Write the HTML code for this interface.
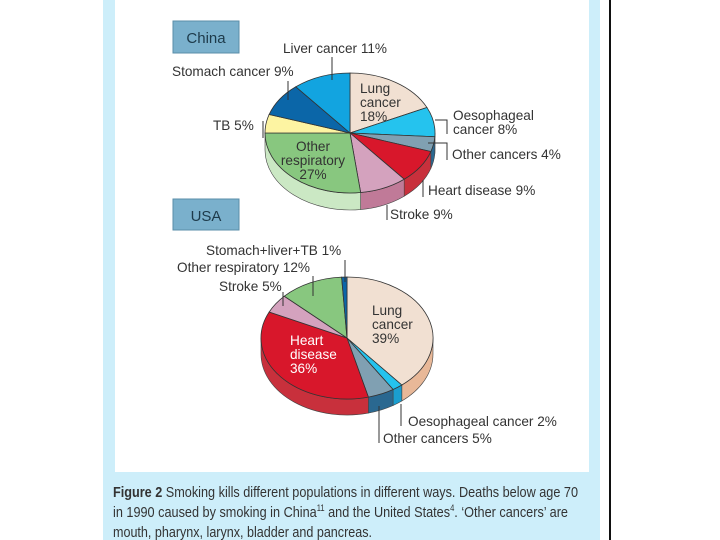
<!DOCTYPE html>
<html><head><meta charset="utf-8"><style>
html,body{margin:0;padding:0;background:#fff;width:720px;height:540px;overflow:hidden}
svg{display:block;font-family:"Liberation Sans",sans-serif}
</style></head><body>
<svg id="c" width="720" height="540" viewBox="0 0 720 540">
<rect x="103" y="0" width="497" height="540" fill="#cdeefa"/>
<rect x="115" y="0" width="474" height="472" fill="#fff"/>
<rect x="609" y="0" width="2" height="540" fill="#111"/>
<g>
<rect x="173" y="21" width="66" height="32" fill="#7ab0cc" stroke="#5a8ea8"/>
<text x="206" y="43" font-size="15" text-anchor="middle" fill="#1d3a4a">China</text></g>
<g>
<rect x="173" y="199" width="66" height="31" fill="#7ab0cc" stroke="#5a8ea8"/>
<text x="206" y="221" font-size="15" text-anchor="middle" fill="#1d3a4a">USA</text></g>
<g id="china"></g>
<g id="usa"></g>
<g font-size="13.6" fill="#333" stroke="none">
<text x="283" y="53">Liver cancer 11%</text>
<text x="172" y="76">Stomach cancer 9%</text>
<text x="213" y="130">TB 5%</text>
<text x="453" y="120">Oesophageal</text><text x="453" y="134">cancer 8%</text>
<text x="452" y="159">Other cancers 4%</text>
<text x="428" y="195">Heart disease 9%</text>
<text x="390" y="219">Stroke 9%</text>
<text x="360" y="93">Lung</text><text x="360" y="107">cancer</text><text x="360" y="121">18%</text>
<text x="313" y="151" text-anchor="middle">Other</text><text x="313" y="165" text-anchor="middle">respiratory</text><text x="313" y="179" text-anchor="middle">27%</text>
<text x="206" y="255">Stomach+liver+TB 1%</text>
<text x="177" y="272">Other respiratory 12%</text>
<text x="219" y="291">Stroke 5%</text>
<text x="372" y="315">Lung</text><text x="372" y="329">cancer</text><text x="372" y="343">39%</text>
<text x="290" y="345" fill="#fff">Heart</text><text x="290" y="359" fill="#fff">disease</text><text x="290" y="373" fill="#fff">36%</text>
<text x="408" y="426">Oesophageal cancer 2%</text>
<text x="383" y="443">Other cancers 5%</text>
</g>
<g stroke="#333" stroke-width="1" fill="none">
<path d="M332 57V80M288 81V100M263 121V138M435 120H447V134M428 143H447V160M423 180V197M387 205V220M345 260V282M313 276V296M283 292V306M401 404V426M379 406V443"/>
</g>
<g font-size="15" fill="#333">
<text x="113" y="497" textLength="465" lengthAdjust="spacingAndGlyphs"><tspan font-weight="bold">Figure 2</tspan> Smoking kills different populations in different ways. Deaths below age 70</text>
<text x="113" y="517" textLength="455" lengthAdjust="spacingAndGlyphs">in 1990 caused by smoking in China<tspan font-size="9" dy="-6">11</tspan><tspan dy="6"> and the United States</tspan><tspan font-size="9" dy="-6">4</tspan><tspan dy="6">. ‘Other cancers’ are</tspan></text>
<text x="113" y="537" textLength="259" lengthAdjust="spacingAndGlyphs">mouth, pharynx, larynx, bladder and pancreas.</text>
</g>
</svg>
<script>
const chinaCats=["Lung cancer","Oesophageal cancer","Other cancers","Heart disease","Stroke","Other respiratory","TB","Stomach cancer","Liver cancer"];
const chinaVals=[18,8,4,9,9,27,5,9,11];
const usaCats=["Lung cancer","Oesophageal cancer","Other cancers","Heart disease","Stroke","Other respiratory","Stomach+liver+TB"];
const usaVals=[39,2,5,36,5,12,1];
const colorOf={"Lung cancer":["#f1e0d2","#e8b898"],"Oesophageal cancer":["#25c3ee","#1a9ed0"],"Other cancers":["#80a0b2","#2a6890"],"Heart disease":["#d8172b","#c8303c"],"Stroke":["#d4a2be","#c07a98"],"Other respiratory":["#88c77f","#cbe8c4"],"TB":["#fdf4a2","#e8dc80"],"Stomach cancer":["#0b66a8","#084c80"],"Liver cancer":["#12a4e0","#0c80b0"],"Stomach+liver+TB":["#0b66a8","#084c80"]};
const NS="http://www.w3.org/2000/svg";
function drawPie(g,cx,cy,rx,ry,depth,cats,vals,prefix){
  const tot=vals.reduce((a,b)=>a+b,0);
  const P=(a,dy)=>[cx+rx*Math.sin(a),cy-ry*Math.cos(a)+(dy||0)];
  let acc=0;const sl=[];
  vals.forEach((v,i)=>{const a0=acc/tot*2*Math.PI;acc+=v;const a1=acc/tot*2*Math.PI;sl.push([a0,a1,cats[i]]);});
  sl.forEach(([a0,a1,c])=>{
    const s=Math.max(a0,Math.PI/2),e=Math.min(a1,Math.PI*1.5);
    if(e<=s)return;
    const p0=P(s),p1=P(e),q1=P(e,depth),q0=P(s,depth);
    const d=`M${p0}A${rx},${ry} 0 0 1 ${p1}L${q1}A${rx},${ry} 0 0 0 ${q0}Z`;
    const el=document.createElementNS(NS,'path');
    
    
    el.setAttribute('d',d);el.setAttribute('fill',colorOf[c][1]);el.setAttribute('stroke','#444');el.setAttribute('stroke-width','0.6');
    g.appendChild(el);
  });
  sl.forEach(([a0,a1,c])=>{
    const p0=P(a0),p1=P(a1),large=(a1-a0)>Math.PI?1:0;
    const d=`M${cx},${cy}L${p0}A${rx},${ry} 0 ${large} 1 ${p1}Z`;
    const el=document.createElementNS(NS,'path');
    
    
    el.setAttribute('d',d);el.setAttribute('fill',colorOf[c][0]);el.setAttribute('stroke','#333');el.setAttribute('stroke-width','0.8');
    g.appendChild(el);
  });
}
drawPie(document.getElementById('china'),350,133,85,60,17,chinaCats,chinaVals,'china');
drawPie(document.getElementById('usa'),347,338,86,61,16,usaCats,usaVals,'usa');
</script>
</body></html>
